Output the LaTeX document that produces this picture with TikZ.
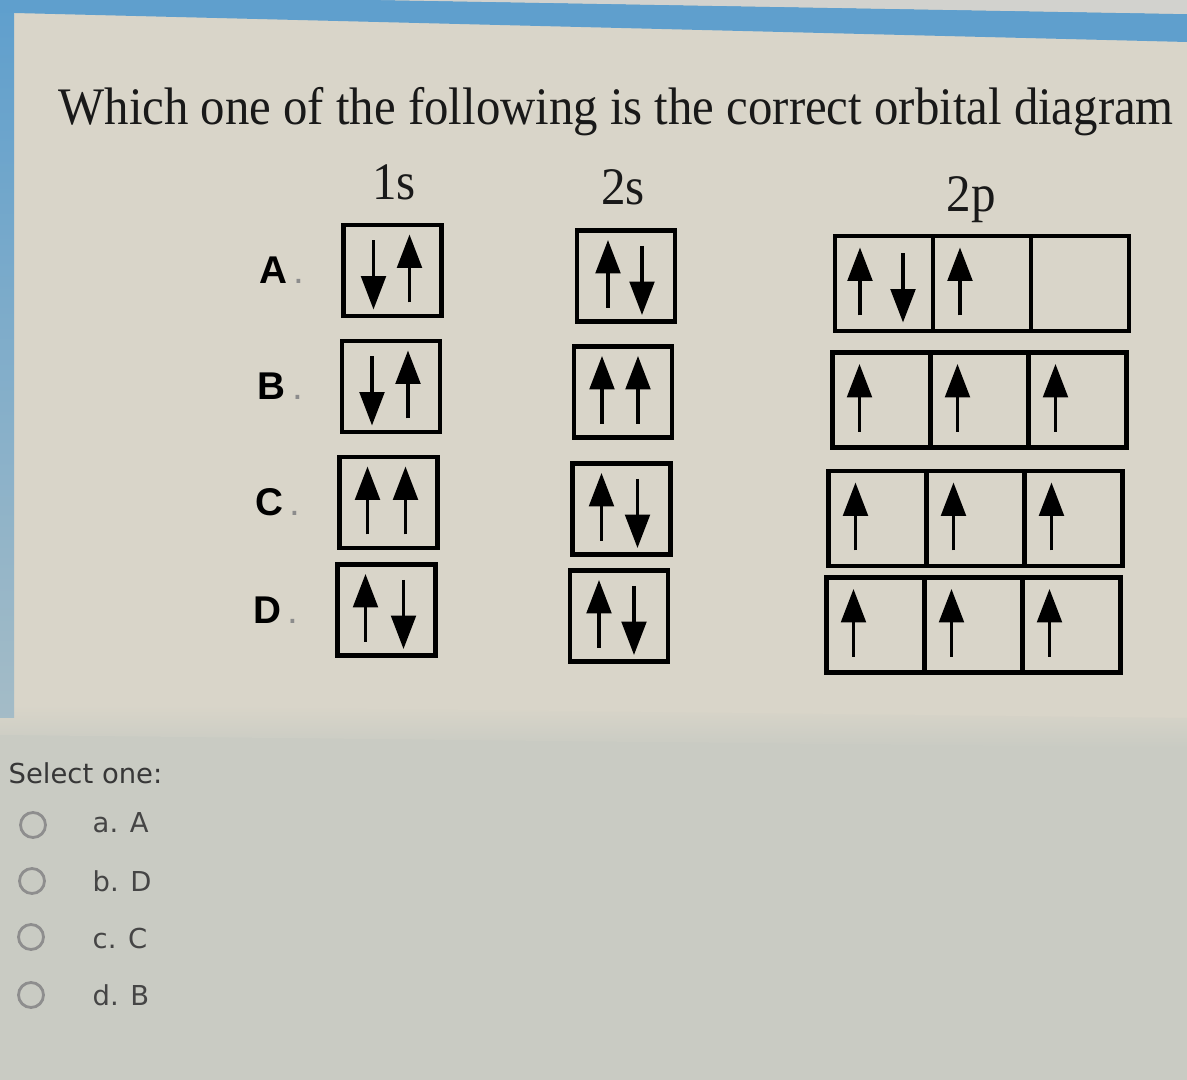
\documentclass[tikz,border=0pt]{standalone}
\usepackage{fontspec}
\setmainfont{Liberation Serif}
\setsansfont{Liberation Sans}
\newfontfamily\uifont{DejaVu Sans}
\usepackage{xcolor}
\usetikzlibrary{arrows.meta}

\definecolor{pagebg}{HTML}{D9D5C9}
\definecolor{formbg}{HTML}{C9CBC3}
\definecolor{barblue}{HTML}{5F9FCD}
\definecolor{topstrip}{HTML}{D2D2CE}
\definecolor{uitext}{HTML}{454545}
\definecolor{radiogray}{HTML}{8E8E8E}

\tikzset{
  orb/.style={draw=black, line width=1.2pt, minimum width=0.98cm, minimum height=0.91cm, inner sep=0pt, outer sep=0pt},
  cell/.style={orb, minimum height=0.95cm},
  spin/.style={line width=0.95pt, -{Triangle[length=9.5pt,width=7pt]}},
  rowlab/.style={font=\sffamily\bfseries\fontsize{11}{13}\selectfont, inner sep=0pt, anchor=west},
  shell/.style={font=\fontsize{15}{18}\selectfont, xscale=0.93, inner sep=0pt, anchor=base, text=black!90},
  radio/.style={circle, draw=radiogray, line width=0.8pt, minimum size=0.25cm, inner sep=0pt},
  uilab/.style={font=\uifont\fontsize{7.8}{9}\selectfont, text=uitext, inner sep=0pt, anchor=base west}
}

% spin arrows inside a box: node, horizontal offset from its centre
\newcommand{\spinup}[2]{\draw[spin] ([shift={(#2,32)}]#1.center) -- ([shift={(#2,-36)}]#1.center);}
\newcommand{\spindn}[2]{\draw[spin] ([shift={(#2,-30)}]#1.center) -- ([shift={(#2,39)}]#1.center);}

\begin{document}
\begin{tikzpicture}[x=0.01cm, y=-0.01cm]
    \useasboundingbox (0,0) rectangle (1187,1080);
    \clip (0,0) rectangle (1187,1080);

    % screen background
    \fill[formbg] (0,0) rectangle (1187,1080);
    \fill[pagebg] (0,10) -- (1187,40) -- (1187,733) -- (0,718) -- cycle;
    \shade[top color=pagebg, bottom color=formbg] (0,705) -- (1187,718) -- (1187,748) -- (0,735) -- cycle;
    \shade[top color=barblue, bottom color=barblue!35!formbg] (0,0) rectangle (14,718);
    \fill[barblue] (0,0) -- (380,0) -- (1187,14) -- (1187,42) -- (14,13) -- (0,13) -- cycle;
    \fill[topstrip] (380,0) -- (1187,0) -- (1187,14) -- cycle;

    % question
    \node[font=\fontsize{15}{18}\selectfont, xscale=0.925, inner sep=0pt, anchor=base west, text=black!90] (question) at (58,125)
        {Which one of the following is the correct orbital diagram};
    \node[shell] (head1s) at (394,200) {1s};
    \node[shell] (head2s) at (623,205) {2s};
    \node[shell] (head2p) at (971,212) {2p};

    % boxes of each answer row
    \foreach \r/\xa/\ya/\xb/\yb/\xc/\yc in {A/392.5/270.5/626/276/884/283.5,
                                           B/391/386.5/623/392/881.5/400,
                                           C/388.5/502.5/621.5/509/877.5/518.5,
                                           D/386.5/610/619/616/875.5/625}
    {
        \node[rowlab] (lab\r) at (\xa-134,\ya) {\r\,{\color{black!45}\mdseries.}};
        \node[orb] (ones\r) at (\xa,\ya) {};
        \node[orb] (twos\r) at (\xb,\yb) {};
        \node[cell] (p\r1) at (\xc,\yc) {};
        \node[cell] (p\r2) at (\xc+98,\yc) {};
        \node[cell] (p\r3) at (\xc+196,\yc) {};
    }

    % A
    \spindn{onesA}{-19} \spinup{onesA}{17}
    \spinup{twosA}{-18} \spindn{twosA}{16}
    \spinup{pA1}{-24} \spindn{pA1}{19}
    \spinup{pA2}{-22}
    % B
    \spindn{onesB}{-19} \spinup{onesB}{17}
    \spinup{twosB}{-21} \spinup{twosB}{15}
    \spinup{pB1}{-22} \spinup{pB2}{-22} \spinup{pB3}{-22}
    % C
    \spinup{onesC}{-21} \spinup{onesC}{17}
    \spinup{twosC}{-20} \spindn{twosC}{16}
    \spinup{pC1}{-22} \spinup{pC2}{-22} \spinup{pC3}{-22}
    % D
    \spinup{onesD}{-21} \spindn{onesD}{17}
    \spinup{twosD}{-20} \spindn{twosD}{15}
    \spinup{pD1}{-22} \spinup{pD2}{-22} \spinup{pD3}{-22}

    % answer choices
    \node[uilab, text=uitext!80!black] (select) at (8,784) {Select one:};
    \node[radio] (optA) at (33,825) {};
    \node[radio] (optB) at (32,881) {};
    \node[radio] (optC) at (31,937) {};
    \node[radio] (optD) at (31,995) {};
    \node[uilab] (ansA) at (92,833) {a. A};
    \node[uilab] (ansB) at (92,892) {b. D};
    \node[uilab] (ansC) at (92,949) {c. C};
    \node[uilab] (ansD) at (92,1006) {d. B};
\end{tikzpicture}
\end{document}
